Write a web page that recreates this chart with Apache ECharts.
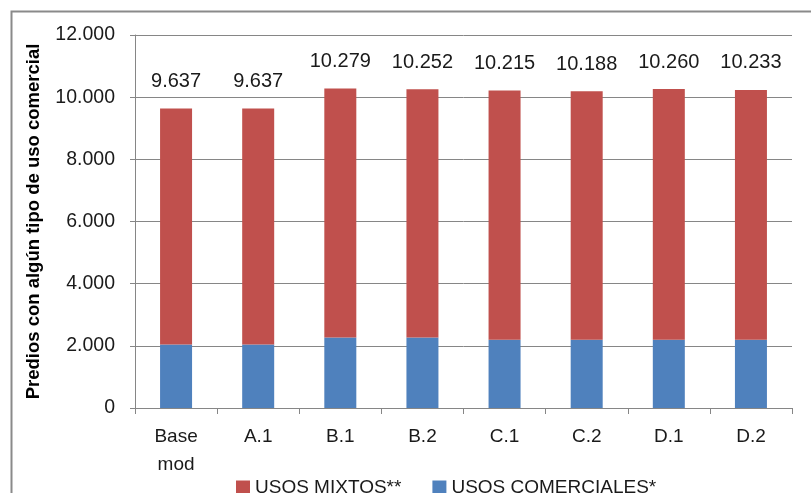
<!DOCTYPE html>
<html>
<head>
<meta charset="utf-8">
<script src="https://cdn.jsdelivr.net/npm/echarts@6/dist/echarts.min.js"></script>
<style>
html,body{margin:0;padding:0;background:#fff;}
#c{width:811px;height:493px;}
</style>
</head>
<body>
<div id="c"></div>
<script>
const categories = ['Base\nmod', 'A.1', 'B.1', 'B.2', 'C.1', 'C.2', 'D.1', 'D.2'];
const totals = [9637, 9637, 10279, 10252, 10215, 10188, 10260, 10233];
const usosComerciales = [2040, 2040, 2270, 2270, 2195, 2195, 2195, 2195];
const usosMixtos = [7597, 7597, 8009, 7982, 8020, 7993, 8065, 8038];
const yTicks = [0, 2000, 4000, 6000, 8000, 10000, 12000];

function fmt(v) {
  return String(v).replace(/\B(?=(\d{3})+(?!\d))/g, '.');
}

const FONT = '"Liberation Sans", Arial, sans-serif';
const chart = echarts.init(document.getElementById('c'), null, {renderer: 'canvas'});
chart.setOption({
  animation: false,
  backgroundColor: '#fff',
  textStyle: {fontFamily: FONT},
  graphic: [{
    type: 'rect', left: 9, top: 9, z: -1,
    shape: {width: 900, height: 600},
    style: {fill: 'none', stroke: '#8a8a8a', lineWidth: 2}
  }],
  grid: {left: 135, right: 19, top: 35, bottom: 85, containLabel: false},
  legend: {
    left: 231, top: 473,
    itemWidth: 14, itemHeight: 14, itemGap: 31,
    icon: 'rect',
    textStyle: {fontSize: 19, color: '#1a1a1a', fontFamily: FONT},
    data: ['USOS MIXTOS**', 'USOS COMERCIALES*']
  },
  xAxis: {
    type: 'category',
    data: categories,
    axisLine: {lineStyle: {color: '#868686', width: 1}},
    axisTick: {show: true, length: 6, lineStyle: {color: '#868686'}},
    axisLabel: {fontSize: 19, color: '#1a1a1a', lineHeight: 28, margin: 15, fontFamily: FONT}
  },
  yAxis: {
    type: 'value',
    min: 0, max: 12000, interval: 2000,
    name: 'Predios con algún tipo de uso comercial',
    nameLocation: 'middle',
    nameGap: 92,
    nameTextStyle: {fontSize: 18.5, fontWeight: 'bold', color: '#000', fontFamily: FONT},
    axisLine: {show: true, lineStyle: {color: '#868686'}},
    axisTick: {show: true, length: 5, lineStyle: {color: '#868686'}},
    splitLine: {lineStyle: {color: '#868686', width: 1}},
    axisLabel: {fontSize: 19.5, color: '#1a1a1a', margin: 20, fontFamily: FONT,
      formatter: v => yTicks.indexOf(v) >= 0 ? fmt(v) : ''}
  },
  series: [
    {
      name: 'USOS COMERCIALES*', type: 'bar', stack: 'total', barWidth: 32,
      itemStyle: {color: '#4F81BD'},
      data: usosComerciales
    },
    {
      name: 'USOS MIXTOS**', type: 'bar', stack: 'total', barWidth: 32,
      itemStyle: {color: '#C0504D'},
      label: {
        show: true, position: 'top', distance: 17,
        fontSize: 20, color: '#1a1a1a', fontFamily: FONT,
        formatter: p => fmt(totals[p.dataIndex])
      },
      data: usosMixtos
    }
  ]
});
</script>
</body>
</html>
